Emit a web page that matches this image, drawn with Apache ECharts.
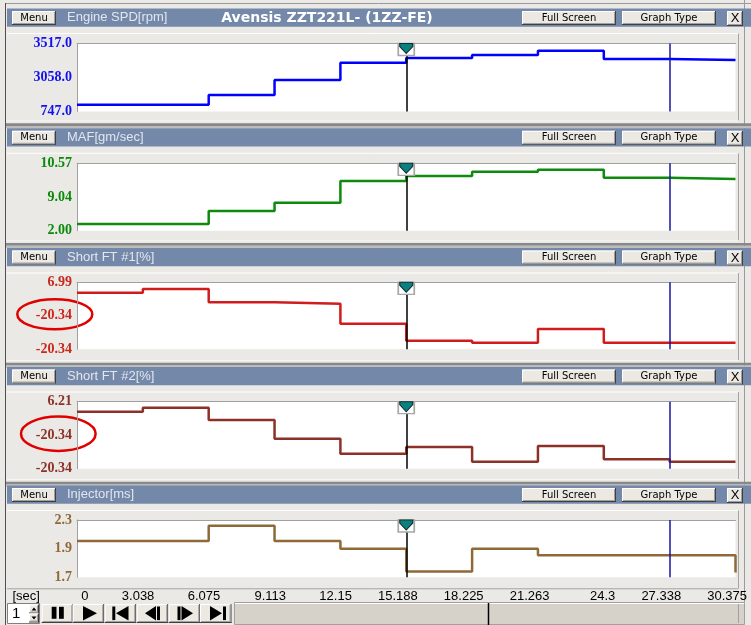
<!DOCTYPE html>
<html>
<head>
<meta charset="utf-8">
<script src="https://cdn.jsdelivr.net/npm/echarts@6.0.0/dist/echarts.min.js"></script>
<style>
html, body { margin: 0; padding: 0; background: #ebe9e5; }
#chart { width: 751px; height: 625px; }
</style>
</head>
<body>
<div id="chart"></div>
<script>
// time axis (seconds)
var times = [0, 3.0375, 6.075, 9.1125, 12.15, 15.1875, 18.225, 21.2625, 24.3, 27.3375, 30.375];
var timeLabels = ['0', '3.038', '6.075', '9.113', '12.15', '15.188', '18.225', '21.263', '24.3', '27.338', '30.375'];

var panelTitles = ['Engine SPD[rpm]', 'MAF[gm/sec]', 'Short FT #1[%]', 'Short FT #2[%]', 'Injector[ms]'];
var carTitle = 'Avensis ZZT221L- (1ZZ-FE)';

// sampled values, one per time point (last one = value at end of record)
var engineSpd = [1024, 1024, 1419, 2030, 2735, 2926, 3049, 3224, 2886, 2845, 2845];
var maf = [2.85, 2.85, 4.50, 5.56, 8.32, 8.96, 9.50, 9.76, 8.74, 8.57, 8.57];
var shortFt1 = [2.75, 4.26, -1.17, -1.74, -9.90, -16.83, -17.65, -12.06, -17.65, -17.65, -17.65];
var shortFt2 = [2.25, 3.83, -1.04, -8.45, -14.40, -11.74, -17.57, -11.34, -16.62, -17.57, -17.57];
var injector = [2.08, 2.08, 2.24, 2.08, 2.00, 1.76, 2.00, 1.93, 1.93, 1.93, 1.75];
var panelValues = [engineSpd, maf, shortFt1, shortFt2, injector];

// y ranges and the three labels shown (bottom, middle, top)
var yMin = [747, 2.00, -20.34, -20.34, 1.7];
var yMax = [3517, 10.57, 6.99, 6.21, 2.3];
var yTickLabels = [
	['747.0', '3058.0', '3517.0'],
	['2.00', '9.04', '10.57'],
	['-20.34', '-20.34', '6.99'],
	['-20.34', '-20.34', '6.21'],
	['1.7', '1.9', '2.3']
];

var cursorTime = 15.1875;
var markerTime = 27.3375;

// styles
var lineColors = ['#0000ff', '#0e8a0e', '#d01c1c', '#8b3128', '#8d6a37'];
var labelColors = ['#1010f0', '#0a8a0a', '#c8281e', '#8b3128', '#8d6a37'];

// layout
var hdrTop = [8.5, 128.3, 248, 367, 485.5];
var gridTop = [43.5, 163.3, 282.3, 401.7, 520];
var gridH = [68, 67.4, 67, 67, 57.3];
var plotLeft = 77, plotWidth = 658.5;

var chart = echarts.init(document.getElementById('chart'));

function rect(x, y, w, h, fill, stroke) {
	return { type: 'rect', shape: { x: x, y: y, width: w, height: h }, style: { fill: fill, stroke: stroke || null, lineWidth: 1 }, silent: true };
}
function line(x1, y1, x2, y2, color, w) {
	return { type: 'line', shape: { x1: x1, y1: y1, x2: x2, y2: y2 }, style: { stroke: color, lineWidth: w || 1 }, silent: true };
}
function text(x, y, str, font, fill, align) {
	return { type: 'text', x: x, y: y, style: { text: str, font: font, fill: fill, textAlign: align || 'left', textVerticalAlign: 'middle' }, silent: true };
}
function poly(points, fill) {
	return { type: 'polygon', shape: { points: points }, style: { fill: fill }, silent: true };
}
function button(x, y, w, h, label, font) {
	var els = [
		rect(x, y, w, h, '#ece9e3'),
		line(x + 0.5, y + 0.5, x + w, y + 0.5, '#ffffff'),
		line(x + 0.5, y + 0.5, x + 0.5, y + h, '#ffffff'),
		line(x, y + h - 0.5, x + w, y + h - 0.5, '#404040'),
		line(x + w - 0.5, y, x + w - 0.5, y + h, '#404040'),
		line(x + 1, y + h - 1.5, x + w - 1, y + h - 1.5, '#a0a0a0'),
		line(x + w - 1.5, y + 1, x + w - 1.5, y + h - 1, '#a0a0a0')
	];
	if (label) els.push(text(x + w / 2, y + h / 2, label, font, '#000', 'center'));
	return els;
}

var deco = [];
// window frame
deco.push(line(6, 3.5, 751, 3.5, '#9a9a9a'));
deco.push(line(5.5, 3, 5.5, 625, '#505050'));
deco.push(line(744.5, 0, 744.5, 602, '#9a9a9a'));

hdrTop.forEach(function (t, i) {
	var frameBottom = i < 4 ? t + 112 : 588.3;
	// header bar
	deco.push(rect(7, t, 744, 18.2, '#7489a9'));
	deco = deco.concat(button(12, t + 2.5, 44, 14, 'Menu', '10px DejaVu Sans'));
	deco = deco.concat(button(522, t + 2.5, 94, 14, 'Full Screen', '10px DejaVu Sans'));
	deco = deco.concat(button(622, t + 2.5, 94, 14, 'Graph Type', '10px DejaVu Sans'));
	deco = deco.concat(button(727, t + 2.5, 16, 15, 'X', '13px Liberation Sans'));
	deco.push(text(67, t + 9.3, panelTitles[i], '13px Liberation Sans', '#e2e6ee'));
	// sunken frame around the plot
	deco.push(line(7, t + 25, 738.5, t + 25, '#ffffff'));
	deco.push(line(738.5, t + 25, 738.5, frameBottom, '#a4a4a4'));
	deco.push(line(7, frameBottom + 0.5, 738.5, frameBottom + 0.5, i < 4 ? '#f6f6f6' : '#a4a4a4'));
	if (i < 4) {
		deco.push(rect(6, t + 114.8, 745, 2.6, '#888888'));
		deco.push(rect(6, t + 117.4, 745, 2.4, '#bdbdbd'));
	}
});
deco.push(text(327, hdrTop[0] + 9.5, carTitle, 'bold 14px DejaVu Sans', '#ffffff', 'center'));

// red ellipses round the middle labels
deco.push({ type: 'ellipse', shape: { cx: 54.8, cy: 314.3, rx: 37.5, ry: 15 }, style: { fill: null, stroke: '#e00000', lineWidth: 2.5 }, silent: true });
deco.push({ type: 'ellipse', shape: { cx: 58.3, cy: 433.8, rx: 37.3, ry: 17.2 }, style: { fill: null, stroke: '#e00000', lineWidth: 2.5 }, silent: true });

// time unit
deco.push(text(12.5, 596.7, '[sec]', '13px Liberation Sans', '#000'));

// playback controls
deco.push(rect(7.5, 603.5, 32, 20, '#ffffff', '#808080'));
deco.push(text(12, 614, '1', '15px Liberation Sans', '#000'));
deco = deco.concat(button(29, 604.5, 10, 9, null));
deco = deco.concat(button(29, 613.5, 10, 9, null));
deco.push(poly([[31.5, 610.5], [36.5, 610.5], [34, 607.5]], '#000'));
deco.push(poly([[31.5, 616.5], [36.5, 616.5], [34, 619.5]], '#000'));
var bx = [41.7, 72.7, 104.7, 136.7, 168.7, 200];
bx.forEach(function (x) { deco = deco.concat(button(x, 604, 31.5, 19, null)); });
var cy = 613.3;
// pause
deco.push(rect(51.7, 606.8, 4.8, 12, '#000'));
deco.push(rect(59, 606.8, 4.8, 12, '#000'));
// play
deco.push(poly([[83, 606], [97, cy], [83, 620.6]], '#000'));
// first
deco.push(rect(112.3, 606.5, 3, 13.6, '#000'));
deco.push(poly([[128.5, 606], [116, cy], [128.5, 620.6]], '#000'));
// step back
deco.push(poly([[156, 606], [145, cy], [156, 620.6]], '#000'));
deco.push(rect(157, 606.5, 3, 13.6, '#000'));
// step forward
deco.push(rect(177.5, 606.5, 3, 13.6, '#000'));
deco.push(poly([[181.5, 606], [193, cy], [181.5, 620.6]], '#000'));
// last
deco.push(poly([[210, 606], [222, cy], [210, 620.6]], '#000'));
deco.push(rect(223, 606.5, 3, 13.6, '#000'));
// scroll track
deco.push(rect(234.5, 602.5, 510, 22, '#d6d2ca', '#a0a0a0'));
deco.push(line(235, 603.5, 744, 603.5, '#ffffff'));
deco.push(line(488.5, 603, 488.5, 625, '#000000', 1.5));
deco.push(line(738.5, 604, 738.5, 623, '#a0a0a0'));

var grids = [], xAxes = [], yAxes = [], series = [];
gridTop.forEach(function (top, i) {
	grids.push({ left: plotLeft, top: top, width: plotWidth, height: gridH[i], show: true, backgroundColor: '#ffffff', borderWidth: 0 });
	xAxes.push({
		gridIndex: i, type: 'value', position: 'top', min: 0, max: 30.375, interval: 3.0375,
		axisLine: { show: true, onZero: false, lineStyle: { color: '#a0a0a0', width: 1 } },
		axisTick: { show: false }, axisLabel: { show: false }, splitLine: { show: false }
	});
	var lo = yMin[i], hi = yMax[i], mid = (lo + hi) / 2;
	yAxes.push({
		gridIndex: i, type: 'value', min: lo, max: hi,
		axisLine: { show: true, onZero: false, lineStyle: { color: '#a0a0a0', width: 1 } },
		axisTick: { show: false }, splitLine: { show: false },
		axisLabel: {
			customValues: [lo, mid, hi],
			margin: 5,
			color: labelColors[i],
			fontFamily: 'Liberation Serif',
			fontWeight: 'bold',
			fontSize: 14,
			formatter: function (v) {
				var vals = [lo, mid, hi], best = 0;
				for (var k = 1; k < 3; k++) {
					if (Math.abs(vals[k] - v) < Math.abs(vals[best] - v)) best = k;
				}
				return yTickLabels[i][best];
			}
		}
	});
	series.push({
		type: 'line',
		xAxisIndex: i, yAxisIndex: i,
		step: 'end',
		showSymbol: false,
		data: times.map(function (t, k) { return [t, panelValues[i][k]]; }),
		lineStyle: { color: lineColors[i], width: 2.5 },
		itemStyle: { color: lineColors[i] },
		z: 3,
		markLine: {
			silent: true, symbol: ['none', 'none'], label: { show: false },
			data: [
				{ xAxis: cursorTime, lineStyle: { color: '#000000', width: 1.5, type: 'solid' } },
				{ xAxis: markerTime, lineStyle: { color: '#1616a0', width: 1.5, type: 'solid' } }
			]
		},
		markPoint: {
			silent: true, label: { show: false },
			data: [
				{ coord: [cursorTime, hi], symbol: 'rect', symbolSize: [16, 12], symbolOffset: [0, 6],
					itemStyle: { color: '#ffffff', borderColor: '#a8a8a8', borderWidth: 1.5 } },
				{ coord: [cursorTime, hi], symbol: 'path://M0,0 L14,0 L14,3 L7,10 L0,3 Z', symbolSize: [13, 10], symbolOffset: [0, 5],
					itemStyle: { color: '#0a8080', borderColor: '#103030', borderWidth: 1 } }
			]
		}
	});
});

// label-only axis under the last panel (labels sit right of their tick)
grids.push({ left: plotLeft + 11.5, top: gridTop[4], width: plotWidth, height: gridH[4], show: false });
xAxes.push({
	gridIndex: 5, type: 'value', position: 'bottom', min: 0, max: 30.375, interval: 3.0375,
	axisLine: { show: false }, axisTick: { show: false }, splitLine: { show: false },
	axisLabel: {
		show: true, align: 'right', margin: 13, color: '#000000',
		fontFamily: 'Liberation Sans', fontSize: 13,
		showMinLabel: true, showMaxLabel: true,
		formatter: function (v) { return timeLabels[Math.round(v / 3.0375)]; }
	}
});
yAxes.push({ gridIndex: 5, type: 'value', show: false, min: 0, max: 1 });

chart.setOption({
	animation: false,
	backgroundColor: '#ebe9e5',
	textStyle: { fontFamily: 'Liberation Sans' },
	grid: grids,
	xAxis: xAxes,
	yAxis: yAxes,
	series: series,
	graphic: { elements: deco }
});
</script>
</body>
</html>
